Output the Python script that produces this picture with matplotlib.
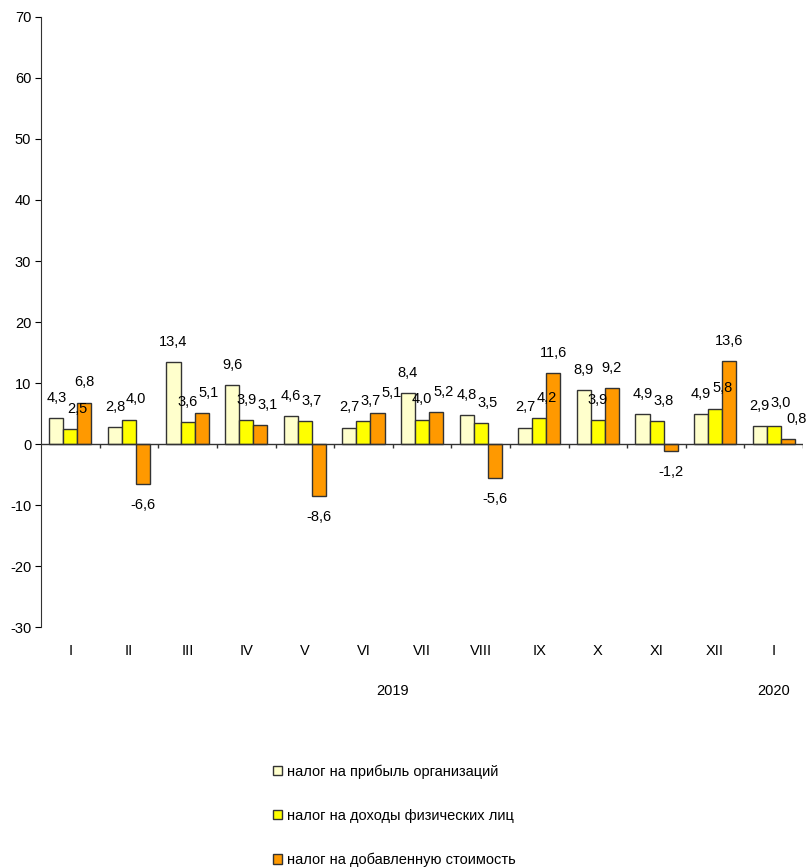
import matplotlib
matplotlib.use("Agg")
import matplotlib.pyplot as plt
import numpy as np
from matplotlib.patches import Patch

plt.rcParams['font.family'] = ['Liberation Sans', 'DejaVu Sans']
plt.rcParams['axes.unicode_minus'] = False

categories = ["I", "II", "III", "IV", "V", "VI", "VII", "VIII", "IX", "X", "XI", "XII", "I"]
profit_tax = [4.3, 2.8, 13.4, 9.6, 4.6, 2.7, 8.4, 4.8, 2.7, 8.9, 4.9, 4.9, 2.9]
income_tax = [2.5, 4.0, 3.6, 3.9, 3.7, 3.7, 4.0, 3.5, 4.2, 3.9, 3.8, 5.8, 3.0]
vat = [6.8, -6.6, 5.1, 3.1, -8.6, 5.1, 5.2, -5.6, 11.6, 9.2, -1.2, 13.6, 0.8]
series_names = ["налог на прибыль организаций",
                "налог на доходы физических лиц",
                "налог на добавленную стоимость"]
colors = ["#FFFFCC", "#FFFF00", "#FF9900"]
years = ["2019", "2020"]

fig = plt.figure(figsize=(8.09, 8.67), dpi=100)
ax = fig.add_axes([0.0507, 0.2768, 0.942, 0.7036])

x = np.arange(len(categories))
bw = 0.24
series = [profit_tax, income_tax, vat]
labels = [[None] * 3 for _ in categories]
for i, (vals, c) in enumerate(zip(series, colors)):
    pos = x + (i - 1) * bw
    ax.bar(pos, vals, width=bw, color=c, edgecolor="#333333", linewidth=1.0, zorder=3)
    for k, (xp, v) in enumerate(zip(pos, vals)):
        off = 14.5 if v >= 0 else -15
        t = ax.annotate(f"{v:.1f}".replace(".", ","), (xp, v), xytext=(0, off),
                        textcoords="offset points", ha="center", va="center",
                        fontsize=10.5, zorder=6, annotation_clip=False)
        labels[k][i] = t

ax.set_xlim(-0.5, len(categories) - 0.5)
ax.set_ylim(-30, 70)
ax.set_yticks(np.arange(-30, 71, 10))
ax.tick_params(axis="y", direction="out", length=4, labelsize=10.5, pad=3)
ax.set_xticks(x)
ax.set_xticklabels(categories, fontsize=10.5)
ax.tick_params(axis="x", length=0, pad=12)
for s in ["top", "right", "bottom"]:
    ax.spines[s].set_visible(False)
ax.spines["left"].set_color("#333333")
ax.axhline(0, color="#333333", linewidth=1.0, zorder=4)
bounds = np.arange(len(categories)) + 0.5
ax.vlines(bounds, -0.7, 0, color="#333333", linewidth=1.0, zorder=4)

year_pos = [(len(categories) - 2) / 2, len(categories) - 1]
for yp, yl in zip(year_pos, years):
    ax.annotate(yl, (yp, 0), xycoords=("data", "axes fraction"), xytext=(0, -46),
                textcoords="offset points", ha="center", va="center", fontsize=10.5)

handles = [Patch(facecolor=c, edgecolor="#333333", linewidth=1.0) for c in colors]
leg = fig.legend(handles, series_names, loc="upper left", bbox_to_anchor=(0.328, 0.127),
                 frameon=False, fontsize=10.5, handlelength=0.65, handleheight=0.65,
                 handletextpad=0.35, labelspacing=2.05, borderpad=0)

# nudge neighbouring value labels when they collide (as the source chart does)
fig.canvas.draw()
r = fig.canvas.get_renderer()
pt = 72.0 / fig.dpi
W = fig.bbox.width
for grp in labels:
    for j in range(1, 3):
        a, b = grp[j - 1], grp[j]
        ba = a.get_window_extent(r)
        bb = b.get_window_extent(r)
        hov = ba.x1 - bb.x0
        vov = min(ba.y1, bb.y1) - max(ba.y0, bb.y0)
        if hov > 0 and vov > 0:
            ox, oy = b.xyann
            b.xyann = (ox + (hov + 1) * pt, oy)
    last = grp[2]
    bl = last.get_window_extent(r)
    if bl.x1 > W - 2:
        prev = grp[1].get_window_extent(r)
        ox, oy = last.xyann
        last.xyann = (ox - (bl.x1 - W + 2) * pt, oy)
        bl = last.get_window_extent(r)
        vov = min(prev.y1, bl.y1) - max(prev.y0, bl.y0)
        if vov > 0 and prev.x1 > bl.x0:
            pa = grp[1]
            px, py = pa.xyann
            pa.xyann = (px, py + (vov + 2) * pt)

fig.savefig("out.png", dpi=100)
